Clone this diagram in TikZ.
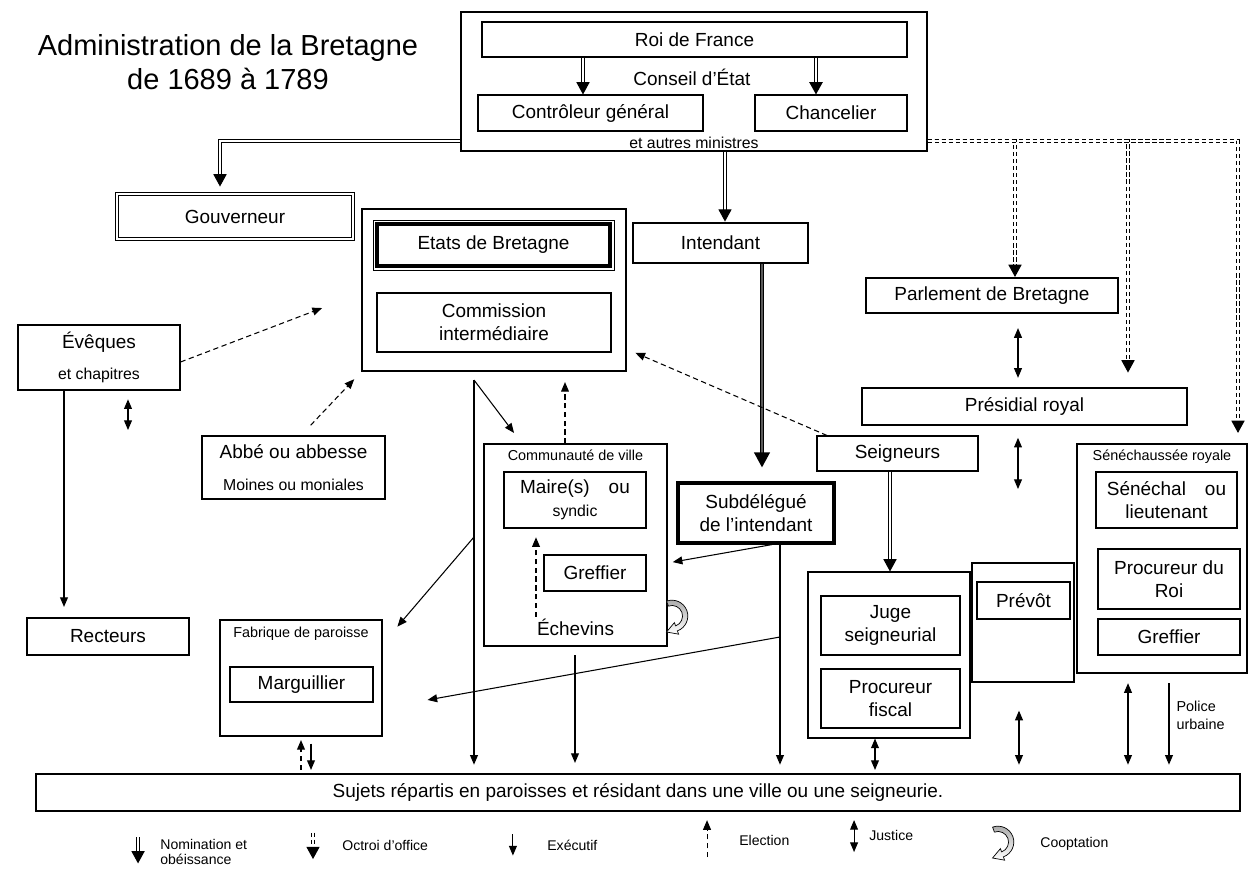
\documentclass[tikz,border=0pt]{standalone}
\usepackage{fontspec}
\setmainfont{Liberation Sans}
\usepackage{tikz}
\usetikzlibrary{arrows.meta, positioning}
\usepackage{xcolor}
\definecolor{encre}{HTML}{000000}
\definecolor{grisclair}{HTML}{A8A8A8}
\definecolor{grisfonce}{HTML}{5A5A5A}

\newcommand{\fonttitre}{\fontsize{16.5}{19}\selectfont}
\newcommand{\fontboite}{\fontsize{10.8}{13}\selectfont}
\newcommand{\fontmoyen}{\fontsize{9}{11}\selectfont}
\newcommand{\fontpetit}{\fontsize{8.2}{10}\selectfont}
\newcommand{\fontlegende}{\fontsize{8}{8.5}\selectfont}

\tikzset{
    taille/.style 2 args={minimum width=#1*0.02cm, minimum height=#2*0.02cm},
    cooptation/.pic={
        \begin{scope}[x=1pt, y=1pt]
            \draw[encre, line width=0.4pt, top color=grisclair, bottom color=white]
                (110:9) arc[start angle=110, end angle=-70, radius=9]
                -- (-70:11) -- (-3.1,-9.1) -- (-70:4) -- (-70:6)
                arc[start angle=-70, end angle=110, radius=6] -- cycle;
        \end{scope}
    }
}

\begin{document}
\begin{tikzpicture}[
    x=0.02cm, y=-0.02cm,
    % Styles des boites
    boite/.style={
        rectangle,
        draw=encre,
        line width=0.6pt,
        align=center,
        inner sep=1pt,
        font=\fontboite
    },
    texte/.style={inner sep=1pt, align=center, font=\fontboite},
    petit/.style={inner sep=1pt, align=center, font=\fontpetit},
    legende/.style={inner sep=0pt, align=left, anchor=west, font=\fontlegende},
    % Styles des fleches
    nomination/.style={
        draw=encre,
        double=white,
        double distance=1.2pt,
        line width=0.6pt,
        -{Triangle[width=7.5pt, length=7pt]}
    },
    octroi/.style={nomination, dash pattern=on 2.4pt off 1.6pt},
    fort/.style={
        draw=encre,
        double=grisfonce,
        double distance=1.1pt,
        line width=0.8pt,
        -{Triangle[width=9pt, length=8.5pt]}
    },
    executif/.style={draw=encre, line width=0.6pt, -{Triangle[width=4.5pt, length=5.5pt]}},
    election/.style={executif, dash pattern=on 3pt off 2pt},
    justice/.style={
        draw=encre,
        line width=0.6pt,
        {Triangle[width=4.5pt, length=5.5pt]}-{Triangle[width=4.5pt, length=5.5pt]}
    }
]
    \useasboundingbox (0,0) rectangle (1249,870);

    % ==========================================
    % TITRE
    % ==========================================
    \node[texte, font=\fonttitre] (titre) at (228,62) {Administration de la Bretagne\\de 1689 à 1789};

    % ==========================================
    % 1. POUVOIR ROYAL (Haut)
    % ==========================================
    \node[boite, taille={466}{139}] (conseil) at (694,81.5) {};
    \node[boite, taille={425}{35}] (roi) at (694.5,39.5) {Roi de France};
    \node[boite, taille={225}{36}] (controleur) at (590.5,113) {Contrôleur général};
    \node[boite, taille={152}{36}] (chancelier) at (831,113) {Chancelier};
    \node[texte] (conseiltexte) at (692,77) {Conseil d'État};
    \node[texte, font=\fontmoyen, above=0.5pt of conseil.south] (ministres) {et autres ministres};

    % ==========================================
    % 2. GOUVERNEUR ET ETATS (Gauche)
    % ==========================================
    \node[boite, double, double distance=1pt, line width=0.5pt, taille={236}{45}] (gouverneur) at (235,216.5) {Gouverneur};

    \node[boite, taille={264}{162}] (etatsbox) at (494,290) {};
    \node[boite, line width=2pt, taille={233}{42}] (etats) at (493.5,245) {Etats de Bretagne};
    \draw[encre, line width=0.5pt] ([shift={(-1.3pt,1.3pt)}]etats.north west) rectangle ([shift={(1.3pt,-1.3pt)}]etats.south east);
    \node[boite, taille={234}{59}] (commission) at (494,322.5) {Commission\\intermédiaire};

    \node[boite, taille={162}{65}] (eveques) at (99,357.5) {Évêques\\[5pt]{\fontmoyen et chapitres}};
    \node[boite, taille={183}{63}] (abbe) at (293.5,467.5) {Abbé ou abbesse\\[5pt]{\fontmoyen Moines ou moniales}};
    \node[boite, taille={162}{37}] (recteurs) at (108,636.5) {Recteurs};

    \node[boite, taille={162}{116}] (fabrique) at (301,678) {};
    \node[petit, below=3pt of fabrique.north] (fabriquetitre) {Fabrique de paroisse};
    \node[boite, taille={143}{35}] (marguillier) at (301.5,684.5) {Marguillier};

    % ==========================================
    % 3. VILLE ET INTENDANCE (Centre)
    % ==========================================
    \node[boite, line width=1.6pt, taille={175}{40}] (intendant) at (720.5,243) {Intendant};
    \node[boite, line width=1.8pt, taille={156}{60}] (subdelegue) at (756,513) {Subdélégué\\de l'intendant};

    \node[boite, taille={183}{202}] (communaute) at (575.5,545) {};
    \node[petit, below=2.5pt of communaute.north] (communautetitre) {Communauté de ville};
    \node[boite, taille={142}{56}] (maire) at (575,500) {Maire(s)\quad ou\\{\fontmoyen syndic}};
    \node[boite, taille={102}{36}] (greffierville) at (595,573) {Greffier};
    \node[texte, above=5pt of communaute.south] (echevins) {Échevins};

    % ==========================================
    % 4. JUSTICE (Droite)
    % ==========================================
    \node[boite, line width=1.2pt, taille={252}{35}] (parlement) at (992,295.5) {Parlement de Bretagne};
    \node[boite, taille={325}{37}] (presidial) at (1024.5,406.5) {Présidial royal};
    \node[boite, taille={161}{35}] (seigneurs) at (897.5,453.5) {Seigneurs};

    \node[boite, taille={162}{166}] (seigneurie) at (889,655) {};
    \node[boite, taille={139}{59}] (juge) at (890.5,625.5) {Juge\\seigneurial};
    \node[boite, taille={139}{59}] (fiscal) at (890.5,698.5) {Procureur\\fiscal};

    \node[boite, taille={102}{119}] (prevotbox) at (1023,622.5) {};
    \node[boite, taille={93}{37}] (prevot) at (1023.5,600.5) {Prévôt};

    \node[boite, taille={170}{229}] (senechaussee) at (1162,558.5) {};
    \node[petit, below=2.5pt of senechaussee.north] (senechausseetitre) {Sénéchaussée royale};
    \node[boite, taille={141}{56}] (senechal) at (1166.5,500) {Sénéchal\quad ou\\lieutenant};
    \node[boite, taille={142}{60}] (procroi) at (1169,579) {Procureur du\\Roi};
    \node[boite, taille={142}{36}] (greffierroyal) at (1169,637) {Greffier};

    % ==========================================
    % 5. SUJETS (Bas)
    % ==========================================
    \node[boite, taille={1204}{37}] (sujets) at (638,792.5) {Sujets répartis en paroisses et résidant dans une ville ou une seigneurie.};

    % Points libres
    \coordinate (etatspied) at (474,380);
    \coordinate (etatsmilieu) at (474,537);
    \coordinate (subbranche) at (780,637);
    \coordinate (evequesjustice) at (128,430);
    \coordinate (presidialjustice) at (1018,489);

    % ==========================================
    % FLECHES
    % ==========================================
    % Nomination et octroi depuis le Conseil
    \draw[nomination] (roi.south -| 583,0) -- (controleur.north -| 583,0);
    \draw[nomination, line width=1pt, double distance=0.6pt] (roi.south -| 816,0) -- (chancelier.north -| 816,0);
    \draw[nomination, shorten >=4pt] (conseil.west |- 0,141) -| (gouverneur.north -| 220,0);
    \draw[nomination] (conseil.south -| 725,0) -- (intendant.north -| 725,0);
    \draw[octroi] (conseil.east |- 0,141) -| (parlement.north -| 1015,0);
    \draw[octroi, shorten >=8.5pt] (conseil.east |- 0,141) -| (presidial.north -| 1128,0);
    \draw[octroi, shorten >=6pt] (conseil.east |- 0,141) -| (senechaussee.north -| 1238,0);

    % Intendance
    \draw[fort, shorten >=8pt] (intendant.south -| 762,0) -- (subdelegue.north -| 762,0);
    \draw[executif, shorten >=3pt] (subdelegue.south -| 772,0) -- (communaute.east |- 0,563);
    \draw[executif, shorten >=5pt] (subdelegue.south -| subbranche) -- (sujets.north -| subbranche);
    \draw[executif, shorten >=26pt] (subbranche) -- (fabrique.east |- 0,708);

    % Etats
    \draw[executif, shorten >=5pt] (etatspied) -- (sujets.north -| etatspied);
    \draw[executif, shorten >=7.5pt] (etatspied) -- (communaute.north -| 522,0);
    \draw[executif, shorten >=13pt] (etatsmilieu) -- (fabrique.east |- 0,644);

    % Elections
    \draw[election, shorten >=6pt] (communaute.north -| 565,0) -- (etatsbox.south -| 565,0);
    \draw[election, shorten >=5pt] (echevins.north -| 536,0) -- (maire.south -| 536,0);
    \draw[election, shorten >=24pt] (eveques.east |- 0,362) -- (etatsbox.west |- 0,293);
    \draw[election, shorten <=8pt, shorten >=6pt] (abbe.north -| 301,0) -- (etatsbox.south west);
    \draw[election, shorten >=5.5pt] (seigneurs.north -| 827,0) -- (etatsbox.east |- 0,349);

    % Clerge
    \draw[executif, shorten >=6pt] (eveques.south -| 64,0) -- (recteurs.north -| 64,0);
    \draw[justice, shorten <=5pt] (eveques.south -| evequesjustice) -- (evequesjustice);

    % Justice
    \draw[justice, shorten <=8pt, shorten >=5.5pt] (parlement.south -| 1018,0) -- (presidial.north -| 1018,0);
    \draw[justice, shorten <=7pt] (presidial.south -| presidialjustice) -- (presidialjustice);
    \draw[nomination] (seigneurs.south -| 890,0) -- (seigneurie.north -| 890,0);
    \draw[justice, shorten >=2pt] (seigneurie.south -| 875,0) -- (sujets.north -| 875,0);
    \draw[justice, shorten <=16pt, shorten >=5pt] (prevotbox.south -| 1019,0) -- (sujets.north -| 1019,0);
    \draw[justice, shorten <=5.5pt, shorten >=5pt] (senechaussee.south -| 1128,0) -- (sujets.north -| 1128,0);
    \draw[executif, shorten <=5.5pt, shorten >=5pt] (senechaussee.south -| 1169,0) -- (sujets.north -| 1169,0)
        node[petit, align=left, right=3pt, pos=0.42] (police) {Police\\urbaine};

    % Paroisse et ville
    \draw[election, shorten <=2pt, shorten >=2pt] (sujets.north -| 301,0) -- (fabrique.south -| 301,0);
    \draw[executif, shorten <=4pt, shorten >=2pt] (fabrique.south -| 311,0) -- (sujets.north -| 311,0);
    \draw[executif, shorten <=5pt, shorten >=6pt] (communaute.south -| 575,0) -- (sujets.north -| 575,0);
    \pic at (672,616) {cooptation};

    % ==========================================
    % LEGENDE
    % ==========================================
    \node[legende] (lnomination) at (160,852) {Nomination et\\obéissance};
    \draw[nomination] ([shift={(-12.5pt,8.5pt)}]lnomination.west) -- ++(0,-15pt);
    \node[legende] (loctroi) at (342,845) {Octroi d'office};
    \draw[octroi] ([shift={(-16.5pt,7pt)}]loctroi.west) -- ++(0,-15pt);
    \node[legende] (lexecutif) at (547,845) {Exécutif};
    \draw[executif] ([shift={(-19.4pt,6pt)}]lexecutif.west) -- ++(0,-12pt);
    \node[legende] (lelection) at (739,840) {Election};
    \draw[election] ([shift={(-18.2pt,-9.7pt)}]lelection.west) -- ++(0,21pt);
    \node[legende] (ljustice) at (869,835) {Justice};
    \draw[justice] ([shift={(-8.5pt,8.5pt)}]ljustice.west) -- ++(0,-18.2pt);
    \node[legende] (lcooptation) at (1040,844) {Cooptation};
    \pic at (998,842) {cooptation};

\end{tikzpicture}
\end{document}
